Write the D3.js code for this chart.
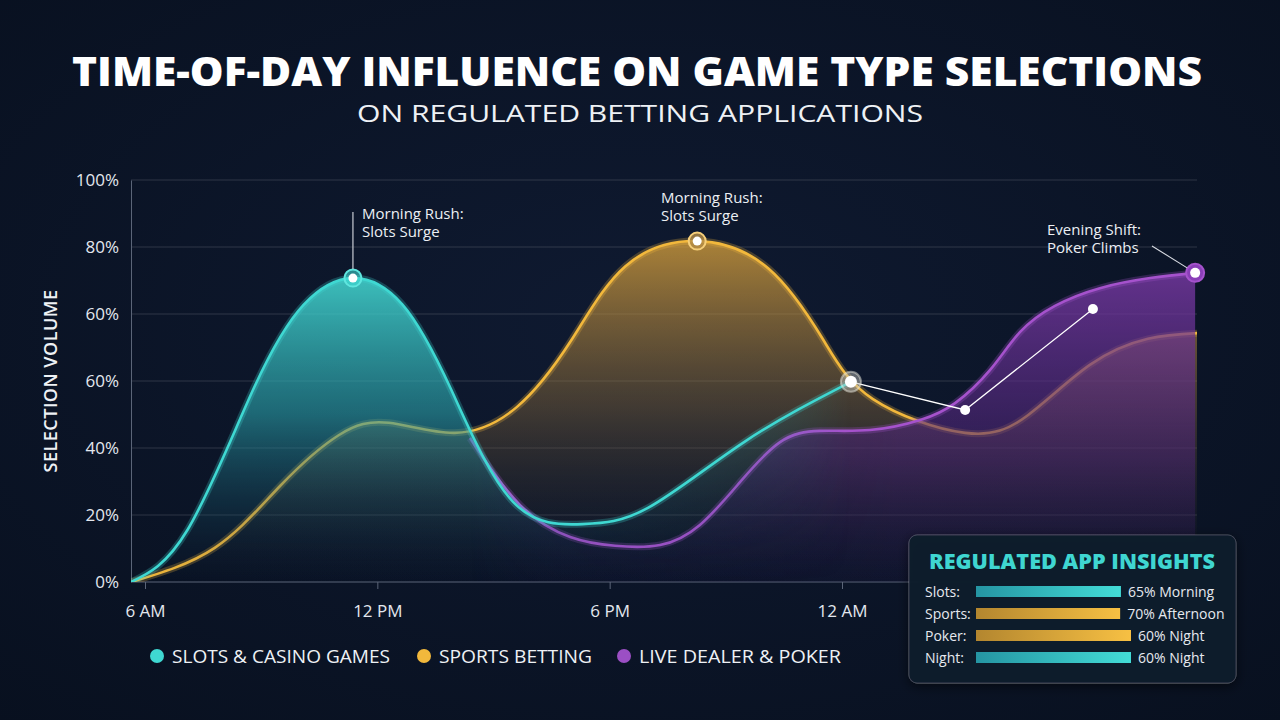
<!DOCTYPE html>
<html>
<head>
<meta charset="utf-8">
<script src="https://cdn.jsdelivr.net/npm/d3@7"></script>
<style>
  body { margin: 0; background: #0b1426; }
  svg { display: block; }
</style>
</head>
<body>
<div id="chart"></div>
<script>
// hour of day (24 = midnight, >24 = next morning), selection volume 0-100
var slotsData = [
  [5.64, 0], [7.1, 13], [8.8, 48], [10.1, 69], [11.37, 75.6], [12.65, 69],
  [13.9, 48], [15.5, 20], [17.3, 14.4], [19.0, 18.5], [21.5, 35], [24.23, 49.8]
];
var sportsData = [
  [5.64, 0], [7.8, 8.5], [9.5, 24], [11.0, 36.5], [12.3, 39.6], [14.0, 37.1],
  [15.6, 43.5], [17.0, 60], [18.4, 78.5], [20.26, 84.8], [22.1, 78], [23.5, 60.5],
  [24.8, 45.5], [27.18, 37.1], [28.8, 41.5], [30.4, 54], [31.9, 60.5], [33.17, 61.9]
];
var pokerData = [
  [14.39, 35.8], [15.68, 19.2], [16.98, 11.2], [18.14, 9], [19.3, 9.2], [20.33, 14.2],
  [21.37, 24.9], [22.4, 34.8], [23.43, 37.6], [24.72, 37.8], [26.02, 40.3], [26.92, 44.5],
  [27.82, 52.7], [28.6, 62.2], [29.5, 68.7], [30.66, 73.1], [31.96, 75.6], [33.12, 76.9]
];
var connectorData = [[24.23, 49.8], [27.18, 42.8], [30.48, 67.9]];

var xTicks = [6, 12, 18, 24];
var xTickLabels = ["6 AM", "12 PM", "6 PM", "12 AM"];
var yTickLabels = ["0%", "20%", "40%", "60%", "60%", "80%", "100%"];

var seriesNames = ["SLOTS & CASINO GAMES", "SPORTS BETTING", "LIVE DEALER & POKER"];
var seriesColors = ["#3fd8d2", "#f2b83c", "#9b4fc4"];

var insightLabels = ["Slots:", "Sports:", "Poker:", "Night:"];
var insightTexts = ["65% Morning", "70% Afternoon", "60% Night", "60% Night"];
var insightLevels = [0.935, 0.93, 1, 1];
var insightKinds = ["slots", "sports", "sports", "slots"];

var W = 1280, H = 720;
var font = "'Open Sans', 'DejaVu Sans', sans-serif";

var svg = d3.select("#chart").append("svg")
  .attr("width", W)
  .attr("height", H);

var defs = svg.append("defs");

var bg = defs.append("radialGradient").attr("id", "bg")
  .attr("cx", "50%").attr("cy", "45%").attr("r", "75%");
bg.append("stop").attr("offset", "0%").attr("stop-color", "#0f1a31");
bg.append("stop").attr("offset", "100%").attr("stop-color", "#08101f");

svg.append("rect").attr("width", W).attr("height", H).attr("fill", "url(#bg)");

var x = d3.scaleLinear().domain([6, 24]).range([145, 842]);
var y = d3.scaleLinear().domain([0, 100]).range([582, 180]);
var left = 131, right = 1197;

function fillGradient(id, top, stops) {
  var g = defs.append("linearGradient").attr("id", id)
    .attr("gradientUnits", "userSpaceOnUse")
    .attr("x1", 0).attr("x2", 0)
    .attr("y1", y(top)).attr("y2", y(0));
  stops.forEach(function(s) {
    g.append("stop").attr("offset", s[0]).attr("stop-color", s[1]).attr("stop-opacity", s[2]);
  });
}
fillGradient("fillSlots", 76, [[0, "#45ddd6", 0.85], [0.45, "#2a9fa8", 0.6], [1, "#10304a", 0]]);
fillGradient("fillSports", 85, [[0, "#e0a63c", 0.75], [0.5, "#8a6a3a", 0.4], [1, "#1a1c2a", 0]]);
fillGradient("fillPoker", 77, [[0, "#7a3aa6", 0.8], [0.6, "#4a2473", 0.55], [1, "#2a1a50", 0.15]]);

// horizontal fades so the areas don't end on a hard vertical edge
function edgeMask(id, stops) {
  var g = defs.append("linearGradient").attr("id", id + "-g")
    .attr("gradientUnits", "userSpaceOnUse")
    .attr("x1", 0).attr("x2", W).attr("y1", 0).attr("y2", 0);
  stops.forEach(function(s) {
    g.append("stop").attr("offset", s[0] / W).attr("stop-color", "#fff").attr("stop-opacity", s[1]);
  });
  defs.append("mask").attr("id", id)
    .attr("maskUnits", "userSpaceOnUse").attr("x", 0).attr("y", 0).attr("width", W).attr("height", H)
    .append("rect").attr("width", W).attr("height", H).attr("fill", "url(#" + id + "-g)");
}
edgeMask("maskSlots", [[0, 1], [560, 1], [700, 0.5], [800, 0.2], [851, 0]]);
edgeMask("maskPoker", [[470, 0], [560, 0.5], [700, 0.75], [900, 1], [W, 1]]);
edgeMask("maskSports", [[0, 1], [W, 1]]);

// grid + axes
var yTickVals = d3.range(yTickLabels.length).map(function(i) { return i * 100 / (yTickLabels.length - 1); });

svg.append("g").selectAll("line")
  .data(yTickVals.slice(1))
  .enter().append("line")
    .attr("x1", left).attr("x2", right)
    .attr("y1", function(d) { return y(d); })
    .attr("y2", function(d) { return y(d); })
    .attr("stroke", "#ffffff").attr("stroke-opacity", 0.14).attr("stroke-width", 1);

var yAxis = svg.append("g")
  .attr("transform", "translate(" + left + ",0)")
  .call(d3.axisLeft(y).tickValues(yTickVals)
    .tickFormat(function(d, i) { return yTickLabels[i]; })
    .tickSize(0).tickPadding(12));
yAxis.select(".domain").attr("stroke", "#5b6578");
yAxis.selectAll("text").attr("fill", "#e3e7ee").style("font", "17px " + font);

var xAxis = svg.append("g")
  .attr("transform", "translate(0," + y(0) + ")")
  .call(d3.axisBottom(x).tickValues(xTicks)
    .tickFormat(function(d, i) { return xTickLabels[i]; })
    .tickSize(7).tickPadding(16));
xAxis.select(".domain").attr("d", "M" + left + ",0H" + right).attr("stroke", "#5b6578");
xAxis.selectAll("line").attr("stroke", "#5b6578");
xAxis.selectAll("text").attr("fill", "#e3e7ee").style("font", "17px " + font);

svg.append("text")
  .attr("transform", "translate(57,381) rotate(-90)")
  .attr("text-anchor", "middle")
  .attr("fill", "#eef1f5")
  .style("font", "600 18px " + font)
  .style("letter-spacing", "0.5px")
  .text("SELECTION VOLUME");

// series
var curve = d3.curveNatural;
var area = d3.area()
  .x(function(d) { return x(d[0]); })
  .y0(y(0))
  .y1(function(d) { return y(d[1]); })
  .curve(curve);
var line = d3.line()
  .x(function(d) { return x(d[0]); })
  .y(function(d) { return y(d[1]); })
  .curve(curve);

var layers = [
  { data: sportsData, fill: "url(#fillSports)", color: seriesColors[1], mask: "maskSports" },
  { data: pokerData, fill: "url(#fillPoker)", color: "#a552cc", mask: "maskPoker" },
  { data: slotsData, fill: "url(#fillSlots)", color: seriesColors[0], mask: "maskSlots" }
];

// keep everything inside the plot area (natural spline can dip a hair below 0)
defs.append("clipPath").attr("id", "plotClip")
  .append("rect").attr("x", left).attr("y", 150).attr("width", right - left).attr("height", y(0) - 150);
var plot = svg.append("g").attr("clip-path", "url(#plotClip)");

layers.forEach(function(l) {
  plot.append("path").datum(l.data).attr("d", area).attr("fill", l.fill)
    .attr("mask", "url(#" + l.mask + ")");
  plot.append("path").datum(l.data).attr("d", line)
    .attr("fill", "none").attr("stroke", l.color)
    .attr("stroke-opacity", 0.25).attr("stroke-width", 7);
  plot.append("path").datum(l.data).attr("d", line)
    .attr("fill", "none").attr("stroke", l.color).attr("stroke-width", 2.6);
});

// connector annotation
svg.append("path").datum(connectorData)
  .attr("d", d3.line().x(function(d) { return x(d[0]); }).y(function(d) { return y(d[1]); }))
  .attr("fill", "none").attr("stroke", "#ffffff").attr("stroke-width", 1.3);

function marker(pt, ring, ringFill, r) {
  var g = svg.append("g").attr("transform", "translate(" + x(pt[0]) + "," + y(pt[1]) + ")");
  g.append("circle").attr("r", r + 4).attr("fill", ringFill).attr("stroke", ring).attr("stroke-width", 2);
  g.append("circle").attr("r", r).attr("fill", "#ffffff");
}

var slotsPeak = slotsData[4], sportsPeak = sportsData[9], pokerEnd = pokerData[pokerData.length - 1];

marker(slotsPeak, "#5fe6df", "rgba(63,216,210,0.6)", 4.5);
marker(sportsPeak, "#f6cf7a", "rgba(180,140,70,0.8)", 4.5);
marker(pokerEnd, "#a552cc", "#8a3fb8", 5);
marker(connectorData[0], "rgba(230,230,220,0.5)", "rgba(200,200,190,0.45)", 6);
connectorData.slice(1).forEach(function(p) {
  svg.append("circle").attr("cx", x(p[0])).attr("cy", y(p[1])).attr("r", 5).attr("fill", "#ffffff");
});

// callouts
function callout(lines, tx, ty) {
  var t = svg.append("text").attr("fill", "#eceff4").style("font", "15px " + font);
  lines.forEach(function(s, i) {
    t.append("tspan").attr("x", tx).attr("y", ty + i * 18).text(s);
  });
}
svg.append("line")
  .attr("x1", x(slotsPeak[0])).attr("x2", x(slotsPeak[0]))
  .attr("y1", 212).attr("y2", y(slotsPeak[1]) - 9)
  .attr("stroke", "#c8ccd4").attr("stroke-width", 1.2);
callout(["Morning Rush:", "Slots Surge"], 362, 219);
callout(["Morning Rush:", "Slots Surge"], 661, 203);
callout(["Evening Shift:", "Poker Climbs"], 1047, 235);
svg.append("line")
  .attr("x1", 1152).attr("y1", 246)
  .attr("x2", x(pokerEnd[0]) - 8).attr("y2", y(pokerEnd[1]) - 5)
  .attr("stroke", "#d8dbe2").attr("stroke-width", 1.1);

// title
svg.append("text")
  .attr("x", 637).attr("y", 86)
  .attr("text-anchor", "middle")
  .attr("fill", "#ffffff")
  .attr("textLength", 1130).attr("lengthAdjust", "spacingAndGlyphs")
  .style("font", "800 40px " + font)
  .text("TIME-OF-DAY INFLUENCE ON GAME TYPE SELECTIONS");
svg.append("text")
  .attr("x", 640).attr("y", 122)
  .attr("text-anchor", "middle")
  .attr("fill", "#eef1f5")
  .attr("textLength", 566).attr("lengthAdjust", "spacingAndGlyphs")
  .style("font", "24px " + font)
  .text("ON REGULATED BETTING APPLICATIONS");

// legend
var legendX = [157, 424, 624];
var legendW = [218, 153, 202];
var legend = svg.append("g").selectAll("g")
  .data(seriesNames)
  .enter().append("g")
    .attr("transform", function(d, i) { return "translate(" + legendX[i] + ",656)"; });
legend.append("circle").attr("r", 7).attr("fill", function(d, i) { return seriesColors[i]; });
legend.append("text")
  .attr("x", 15).attr("y", 7)
  .attr("fill", "#eef1f5")
  .attr("textLength", function(d, i) { return legendW[i]; })
  .attr("lengthAdjust", "spacingAndGlyphs")
  .style("font", "18px " + font)
  .text(function(d) { return d; });

// insights panel
var panel = svg.append("g").attr("transform", "translate(909,535)");
defs.append("filter").attr("id", "shadow").attr("x", "-20%").attr("y", "-20%").attr("width", "140%").attr("height", "140%")
  .append("feDropShadow").attr("dx", 0).attr("dy", 3).attr("stdDeviation", 6)
  .attr("flood-color", "#000").attr("flood-opacity", 0.6);
panel.append("rect")
  .attr("width", 327).attr("height", 148).attr("rx", 8)
  .attr("fill", "#111a2d").attr("fill-opacity", 0.96)
  .attr("stroke", "#ffffff").attr("stroke-opacity", 0.2)
  .attr("filter", "url(#shadow)");
panel.append("text")
  .attr("x", 163).attr("y", 34)
  .attr("text-anchor", "middle")
  .attr("fill", "#3fd6d1")
  .attr("textLength", 286).attr("lengthAdjust", "spacingAndGlyphs")
  .style("font", "800 21px " + font)
  .text("REGULATED APP INSIGHTS");

function barGradient(id, c0, c1) {
  var g = defs.append("linearGradient").attr("id", id);
  g.append("stop").attr("offset", "0%").attr("stop-color", c0);
  g.append("stop").attr("offset", "100%").attr("stop-color", c1);
}
barGradient("bar-slots", "#2595a3", "#43dcd7");
barGradient("bar-sports", "#b3862f", "#f7c043");

var barX = d3.scaleLinear().domain([0, 1]).range([67, 222]);
var rowY = d3.scaleBand().domain(d3.range(insightLabels.length)).range([46, 134]);

var rows = panel.selectAll(".row")
  .data(insightLabels)
  .enter().append("g")
    .attr("class", "row")
    .attr("transform", function(d, i) { return "translate(0," + rowY(i) + ")"; });
rows.append("text")
  .attr("x", 16).attr("y", 16)
  .attr("fill", "#e6e9ef")
  .style("font", "14px " + font)
  .text(function(d) { return d; });
rows.append("rect")
  .attr("x", barX(0)).attr("y", 5)
  .attr("width", function(d, i) { return barX(insightLevels[i]) - barX(0); })
  .attr("height", 11)
  .attr("fill", function(d, i) { return "url(#bar-" + insightKinds[i] + ")"; });
rows.append("text")
  .attr("x", function(d, i) { return barX(insightLevels[i]) + 7; })
  .attr("y", 16)
  .attr("fill", "#e6e9ef")
  .style("font", "14px " + font)
  .text(function(d, i) { return insightTexts[i]; });
</script>
</body>
</html>
